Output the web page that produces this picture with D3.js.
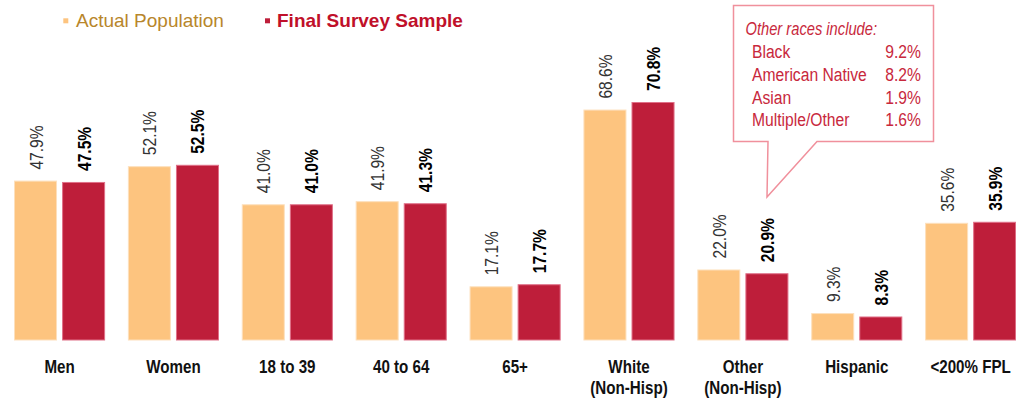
<!DOCTYPE html>
<html><head><meta charset="utf-8">
<script src="https://cdn.jsdelivr.net/npm/d3@7"></script>
<style>
body{margin:0;background:#fff;}
svg{display:block;}
</style></head>
<body><svg id="c" width="1016" height="402"></svg>
<script>
const categories = ["Men","Women","18 to 39","40 to 64","65+","White\n(Non-Hisp)","Other\n(Non-Hisp)","Hispanic","<200% FPL"];
const actualPopulation = [47.9,52.1,41.0,41.9,17.1,68.6,22.0,9.3,35.6];
const finalSurveySample = [47.5,52.5,41.0,41.3,17.7,70.8,20.9,8.3,35.9];
const seriesNames = ["Actual Population","Final Survey Sample"];
const otherRaces = ["Black","American Native","Asian","Multiple/Other"];
const otherRaceValues = [9.2,8.2,1.9,1.6];

const SANS = "'Liberation Sans',Arial,sans-serif";
const NX = 0.82; // horizontal compression to mimic a narrow face
const colors = ["#fdc47f","#be1e3a"];
const strokes = ["#fde0bd","#e07088"];

const svg = d3.select("#c");
const x = d3.scaleBand().domain(categories).range([14,1016.2]).paddingInner(0.2).paddingOuter(0);
const xs = d3.scaleBand().domain([0,1]).range([0,x.bandwidth()]).paddingInner(0.105);
const y = d3.scaleLinear().domain([1.45,70.8]).range([340,102]);

const rows = categories.map((c,i)=>({c, vals:[actualPopulation[i], finalSurveySample[i]]}));

const g = svg.append("g");
const grp = g.selectAll("g.grp").data(rows).join("g").attr("transform",d=>`translate(${x(d.c)},0)`);
grp.selectAll("rect").data(d=>d.vals.map((v,k)=>({v,k}))).join("rect")
  .attr("x",d=>xs(d.k)+0.5).attr("width",xs.bandwidth()-1)
  .attr("y",d=>y(d.v)+0.5).attr("height",d=>y(y.domain()[0])-y(d.v)-0.5)
  .attr("fill",d=>colors[d.k]).attr("stroke",d=>strokes[d.k]).attr("stroke-width",1);

grp.selectAll("text.val").data(d=>d.vals.map((v,k)=>({v,k}))).join("text")
  .attr("class","val")
  .attr("transform",d=>`translate(${xs(d.k)+xs.bandwidth()/2+7},${y(d.v)-11}) rotate(-90) scale(${NX},1)`)
  .attr("text-anchor","start")
  .style("font-family",SANS).style("font-size","19px")
  .style("font-weight",d=>d.k===1?"bold":"normal")
  .attr("fill",d=>d.k===1?"#000":"#333")
  .text(d=>d.v.toFixed(1)+"%");

grp.each(function(d){
  const lines = d.c.split("\n");
  const t = d3.select(this).append("text")
    .attr("transform",`translate(${x.bandwidth()/2},0) scale(${NX},1)`)
    .attr("text-anchor","middle")
    .style("font-family",SANS).style("font-size","18.5px").style("font-weight","bold")
    .attr("fill","#111");
  lines.forEach((l,j)=>t.append("tspan").attr("x",0).attr("y",373+j*21.5).text(l));
});

// legend
const leg = svg.append("g");
const legX = [63.3,265];
const legTextX = [76,277];
seriesNames.forEach((n,k)=>{
  leg.append("rect").attr("x",legX[k]).attr("y",18.3).attr("width",5).attr("height",5).attr("fill",colors[k]);
  leg.append("text").attr("x",legTextX[k]).attr("y",26.5)
    .style("font-family",SANS).style("font-size","19px")
    .style("font-weight",k===1?"bold":"normal")
    .attr("fill",k===1?"#c0102a":"#b8862b").text(n);
});

// callout
const co = svg.append("g");
co.append("path")
  .attr("d","M733.5,5.5 L933.5,5.5 L933.5,141.5 L817,141.5 L767,197 L768,141.5 L733.5,141.5 Z")
  .attr("fill","#fff").attr("stroke","#f0909c").attr("stroke-width",1.5);
co.append("text").attr("transform","translate(745.5,35) scale(0.817,1)")
  .style("font-family",SANS).style("font-size","18px").style("font-style","italic")
  .attr("fill","#c8283c").text("Other races include:");
otherRaces.forEach((r,i)=>{
  const yy = 58.3+i*22.6;
  co.append("text").attr("transform",`translate(752,${yy}) scale(0.87,1)`)
    .style("font-family",SANS).style("font-size","18px").attr("fill","#c8283c").text(r);
  co.append("text").attr("transform",`translate(921,${yy}) scale(0.87,1)`).attr("text-anchor","end")
    .style("font-family",SANS).style("font-size","18px").attr("fill","#c8283c").text(otherRaceValues[i].toFixed(1)+"%");
});
</script></body></html>
